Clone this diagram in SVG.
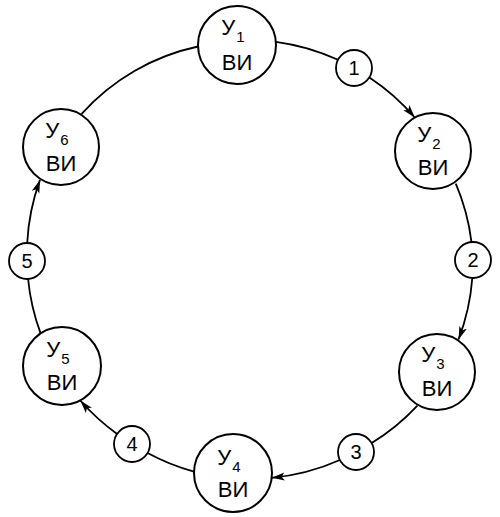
<svg xmlns="http://www.w3.org/2000/svg" width="500" height="517" viewBox="0 0 500 517">
<style>
.node{fill:#fff;stroke:#000;stroke-width:2}
.lbl{fill:#fff;stroke:#000;stroke-width:1.8}
.t{font-family:"Liberation Sans",Arial,sans-serif;font-size:22px;fill:#000;text-anchor:middle}
.s{font-size:15px}
.n{font-family:"Liberation Sans",Arial,sans-serif;font-size:20px;fill:#000;text-anchor:middle}
.c{fill:none;stroke:#000;stroke-width:1.8}
.a{marker-end:url(#ah)}
</style>
<defs>
<marker id="ah" markerUnits="userSpaceOnUse" markerWidth="14" markerHeight="9" refX="13" refY="4" orient="auto">
<path d="M0,0 L13,4 L0,8 L3,4 z" fill="#000"/>
</marker>
</defs>
<g id="connectors">
<path class="c" d="M275.9,41.8 A217,217 0 0 1 338,59.8"/>
<path class="c a" d="M369.4,77.4 A217,217 0 0 1 414.8,117.5"/>
<path class="c" d="M455.8,183.7 A217,217 0 0 1 471.5,242.1"/>
<path class="c a" d="M472.3,278 A217,217 0 0 1 458.5,339.5"/>
<path class="c" d="M417.4,405.7 A217,217 0 0 1 371.7,443.1"/>
<path class="c a" d="M339.9,460 A217,217 0 0 1 271.7,477.8"/>
<path class="c" d="M194,471.6 A217,217 0 0 1 147.6,453"/>
<path class="c a" d="M117.1,433.9 A217,217 0 0 1 80.3,400.5"/>
<path class="c" d="M40.6,333.4 A217,217 0 0 1 28.1,279"/>
<path class="c a" d="M27.2,243 A217,217 0 0 1 40,179.9"/>
<path class="c" d="M81.6,113.9 A217,217 0 0 1 198,46.5"/>
</g>
<g id="n1"><circle class="node" cx="237" cy="45" r="39"/><text class="t" x="233" y="35">У<tspan class="s" dx="1" dy="7">1</tspan></text><text class="t" x="237" y="70">ВИ</text></g>
<g id="n2"><circle class="node" cx="433" cy="151" r="38"/><text class="t" x="429" y="142">У<tspan class="s" dx="1" dy="7">2</tspan></text><text class="t" x="433" y="175">ВИ</text></g>
<g id="n3"><circle class="node" cx="437" cy="372" r="38"/><text class="t" x="433" y="362">У<tspan class="s" dx="1" dy="7">3</tspan></text><text class="t" x="437" y="396">ВИ</text></g>
<g id="n4"><circle class="node" cx="233" cy="473" r="39"/><text class="t" x="229" y="465">У<tspan class="s" dx="1" dy="7">4</tspan></text><text class="t" x="233" y="497">ВИ</text></g>
<g id="n5"><circle class="node" cx="62" cy="366" r="39"/><text class="t" x="58" y="357">У<tspan class="s" dx="1" dy="7">5</tspan></text><text class="t" x="62" y="390">ВИ</text></g>
<g id="n6"><circle class="node" cx="61" cy="147" r="38"/><text class="t" x="57" y="138">У<tspan class="s" dx="1" dy="7">6</tspan></text><text class="t" x="61" y="171">ВИ</text></g>
<g id="c1"><circle class="lbl" cx="354" cy="68" r="18"/><text class="n" x="354" y="75">1</text></g>
<g id="c2"><circle class="lbl" cx="473" cy="260" r="18"/><text class="n" x="473" y="267">2</text></g>
<g id="c3"><circle class="lbl" cx="356" cy="452" r="18"/><text class="n" x="356" y="459">3</text></g>
<g id="c4"><circle class="lbl" cx="132" cy="444" r="18"/><text class="n" x="132" y="451">4</text></g>
<g id="c5"><circle class="lbl" cx="27" cy="261" r="18"/><text class="n" x="27" y="268">5</text></g>
</svg>
